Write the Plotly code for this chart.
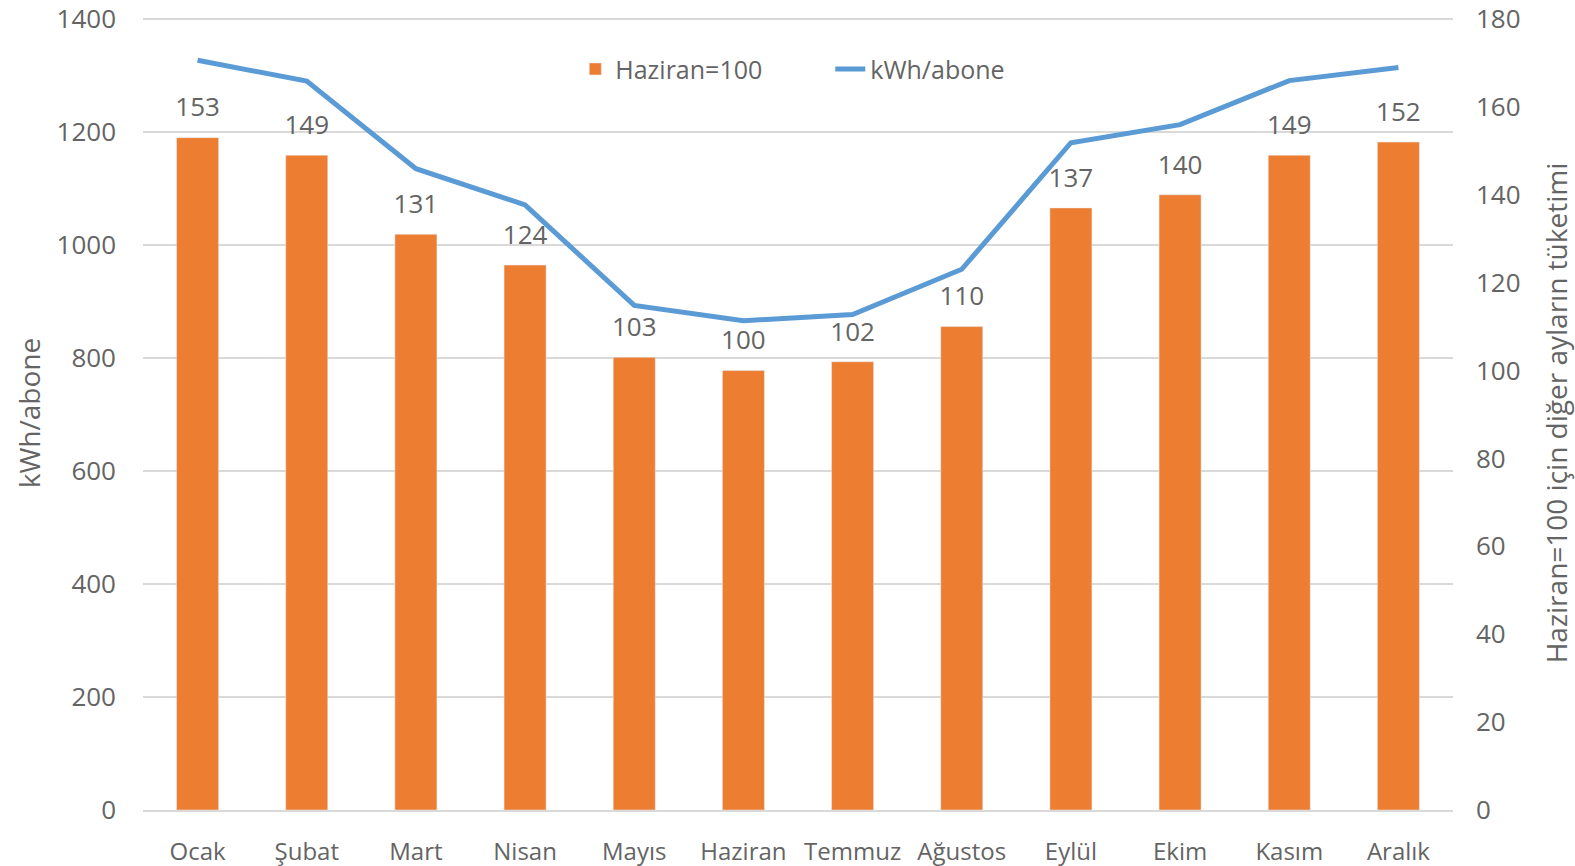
import plotly.graph_objects as go

months = ["Ocak", "Şubat", "Mart", "Nisan", "Mayıs", "Haziran", "Temmuz",
          "Ağustos", "Eylül", "Ekim", "Kasım", "Aralık"]
index_values = [153, 149, 131, 124, 103, 100, 102, 110, 137, 140, 149, 152]
kwh_values = [1327, 1290, 1135, 1071, 893, 866, 877, 957, 1181, 1213, 1291, 1314]

left_ticks = [0, 200, 400, 600, 800, 1000, 1200, 1400]
right_ticks = [0, 20, 40, 60, 80, 100, 120, 140, 160, 180]

FONT = "Open Sans"
TXT = "#646464"
BAR = "#ED7D31"
LINE = "#5B9BD5"

fig = go.Figure()

fig.add_trace(go.Scatter(
    x=months, y=kwh_values, name="kWh/abone", mode="lines",
    line=dict(color=LINE, width=5), yaxis="y", hoverinfo="x+y",
))
fig.add_trace(go.Bar(
    x=months, y=index_values, name="Haziran=100", marker_color=BAR,
    yaxis="y2",
))
fig.add_trace(go.Scatter(
    x=months, y=index_values, mode="markers+text", text=[str(v) for v in index_values],
    textposition="top center", marker=dict(size=22, opacity=0),
    textfont=dict(family=FONT, size=26, color=TXT),
    yaxis="y2", showlegend=False, hoverinfo="skip", cliponaxis=False,
))

# plot area top sits 3px above the 1400 gridline so that gridline is drawn
TOP_LEFT = 1405.3
TOP_RIGHT = 180 * TOP_LEFT / 1400

fig.update_layout(
    width=1575, height=866,
    margin=dict(l=143, r=122, t=16, b=56, autoexpand=False),
    paper_bgcolor="white", plot_bgcolor="white",
    font=dict(family=FONT, size=25, color=TXT),
    bargap=0.615,
    showlegend=True,
    legend=dict(orientation="h", x=0.33, xanchor="left", y=0.933, yanchor="middle",
                entrywidth=210, entrywidthmode="pixels",
                font=dict(family=FONT, size=25, color=TXT), bgcolor="rgba(0,0,0,0)",
                traceorder="reversed"),
    xaxis=dict(range=[-0.5, len(months) - 0.5], showgrid=False, showline=True,
               linecolor="#d9d9d9", linewidth=2,
               ticks="", ticklabelstandoff=19, tickfont=dict(size=24, color=TXT),
               automargin=False),
    yaxis=dict(range=[0, TOP_LEFT], tickvals=left_ticks, showgrid=True, gridcolor="#d9d9d9",
               gridwidth=2, zeroline=False, showline=False, ticks="",
               ticklabelstandoff=26, tickfont=dict(size=26, color=TXT), automargin=False,
               title=dict(text="kWh/abone", font=dict(size=28, color=TXT), standoff=7)),
    yaxis2=dict(range=[0, TOP_RIGHT], tickvals=right_ticks, overlaying="y", side="right",
                showgrid=False, zeroline=False, showline=False, ticks="",
                ticklabelstandoff=22, tickfont=dict(size=26, color=TXT), automargin=False,
                title=dict(text="Haziran=100 için diğer ayların tüketimi",
                           font=dict(size=28, color=TXT), standoff=33)),
)

fig.write_html("out.html", config={"displayModeBar": False},
               post_script="document.body.style.margin='0';")
